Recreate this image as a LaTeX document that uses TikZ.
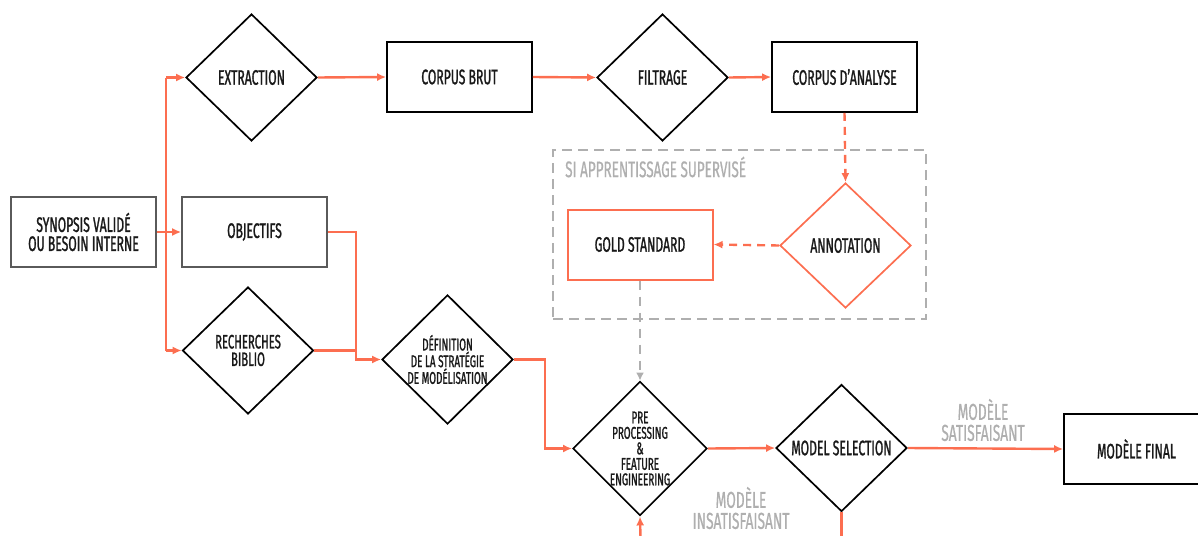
\documentclass[tikz,border=0pt]{standalone}
\usepackage{fontspec}
\setmainfont{Fira Sans}[FakeStretch=0.58, FakeBold=1.2]
\newfontfamily\labelfont{Fira Sans}[FakeStretch=0.6, FakeBold=0.6]
\usetikzlibrary{shapes.geometric,arrows.meta}
\definecolor{coral}{RGB}{252,110,80}
\definecolor{framegray}{RGB}{90,90,90}
\definecolor{softgray}{RGB}{175,175,175}
\definecolor{ink}{RGB}{25,25,25}
\begin{document}
\begin{tikzpicture}[x=1pt,y=-1pt,
  txt/.style={font=\fontsize{21}{19}\selectfont, align=center, text=ink},
  smalltxt/.style={font=\fontsize{17}{15.5}\selectfont},
  box/.style={txt, draw=black, line width=1.7pt, minimum width=145pt,
    minimum height=70pt, inner sep=0pt},
  choice/.style={txt, diamond, draw=black, line width=1.7pt, minimum width=131pt,
    minimum height=127pt, inner sep=0pt},
  link/.style={coral, line width=2.4pt},
  flow/.style={link, -{Latex[length=9pt,width=8pt]}},
  dashflow/.style={flow, dash pattern=on 8pt off 6pt},
  graylabel/.style={font=\labelfont\fontsize{23}{21}\selectfont, align=center, text=softgray},
]
\clip (0,0) rectangle (1198,535);
\useasboundingbox (0,0) rectangle (1198,535);

% supervised-learning region
\node[draw=softgray, line width=1.7pt, dash pattern=on 10pt off 6pt,
  minimum width=373pt, minimum height=169pt, inner sep=0pt] (region) at (739.5,234.5) {};
\node[font=\labelfont\fontsize{22.5}{20}\selectfont, text=softgray, anchor=west, inner sep=0pt]
  (regionlabel) at (565,167) {SI APPRENTISSAGE SUPERVISÉ};

% nodes
\node[box, draw=framegray] (syn) at (83.5,232) {SYNOPSIS VALIDÉ\\OU BESOIN INTERNE};
\node[box, draw=framegray] (obj) at (254.5,232) {OBJECTIFS};
\node[choice] (ext) at (251.5,77.5) {EXTRACTION};
\node[box] (brut) at (459.5,77) {CORPUS BRUT};
\node[choice] (filt) at (662.5,77.5) {FILTRAGE};
\node[box] (ana) at (844.5,77) {CORPUS D’ANALYSE};
\node[box, draw=coral, line width=2pt] (gold) at (640,244.5) {GOLD STANDARD};
\node[choice, draw=coral, minimum height=125pt] (annot) at (845.5,245.5) {ANNOTATION};
\node[choice, font=\fontsize{19.5}{17.5}\selectfont] (rech) at (248,350.5) {RECHERCHES\\BIBLIO};
\node[choice, smalltxt] (def) at (447.5,359.5) {DÉFINITION\\DE LA STRATÉGIE\\DE MODÉLISATION};
\node[choice, smalltxt] (pp) at (640,448.5) {PRE\\PROCESSING\\\&\\FEATURE\\ENGINEERING};
\node[choice] (ms) at (841.5,448) {MODEL SELECTION};
\node[box] (final) at (1136.5,449) {MODÈLE FINAL};

% labels on the loop
\node[graylabel] (ok) at (983,420) {MODÈLE\\SATISFAISANT};
\node[graylabel] (ko) at (741,508) {MODÈLE\\INSATISFAISANT};

% helper points
\coordinate (trunk) at (166,232);
\coordinate (merge) at (356,0);
\coordinate (drop) at (545,0);
\coordinate (loopL) at (641,560);
\coordinate (loopR) at (841.5,560);

% connectors
\draw[flow] (syn.east) -- (obj.west);
\draw[link] (trunk |- ext.west) -- (trunk |- rech.west);
\draw[flow] (trunk |- ext.west) -- (ext.west);
\draw[flow] (trunk |- rech.west) -- (rech.west);
\draw[flow] (ext.east) -- (brut.west);
\draw[flow] (brut.west -| brut.east) -- (filt.west);
\draw[flow] (filt.east) -- (ana.west);
\draw[dashflow] (ana.south) -- (annot.north);
\draw[dashflow] (annot.west) -- (gold.east);
\draw[softgray, line width=2.2pt, dash pattern=on 9pt off 7pt,
  -{Latex[length=8pt,width=8pt]}] (gold.south) -- (pp.north);
\draw[flow] (obj.east) -| (merge |- def.west) -- (def.west);
\draw[link] (rech.east) -- (merge |- rech.east);
\draw[flow] (def.east) -| (drop |- pp.west) -- (pp.west);
\draw[flow] (pp.east) -- (ms.west);
\draw[flow] (ms.east) -- (final.west);
\draw[link] (ms.south) -- (loopR);
\draw[flow] (loopL) -- (pp.south);
\end{tikzpicture}
\end{document}
